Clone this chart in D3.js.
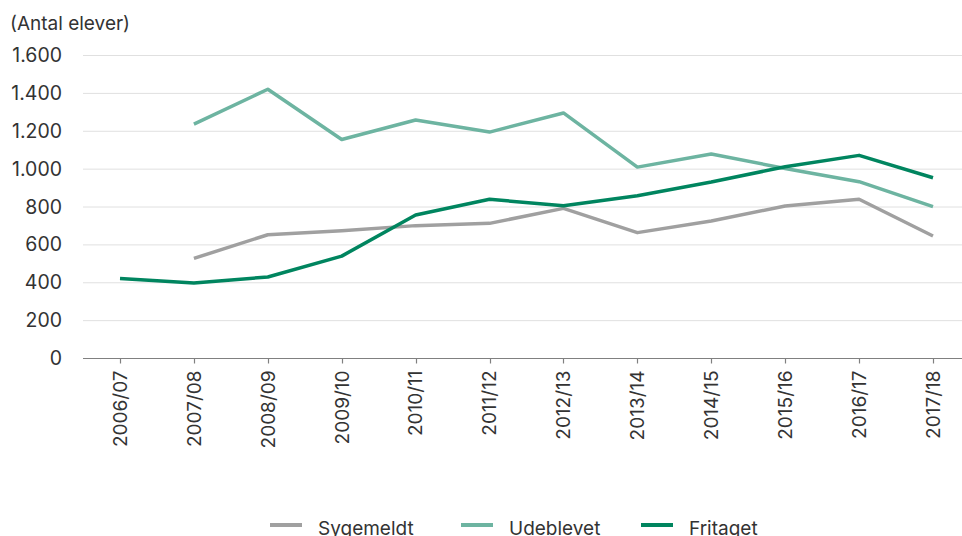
<!DOCTYPE html>
<html>
<head>
<meta charset="utf-8">
<script src="https://cdn.jsdelivr.net/npm/d3@7"></script>
<style>
  body { margin: 0; background: #fff; }
  svg text { font-family: "Inter", "Liberation Sans", sans-serif; fill: #333; }
</style>
</head>
<body>
<div class="chart"></div>
<script>
"use strict";
(function(){

var years = ['2006/07','2007/08','2008/09','2009/10','2010/11','2011/12',
             '2012/13','2013/14','2014/15','2015/16','2016/17','2017/18'];

var sygemeldt = [null, 526, 651, 672, 699, 711, 790, 662, 723, 803, 838, 644];
var udeblevet = [null, 1235, 1419, 1154, 1257, 1193, 1294, 1008, 1077, 1001, 931, 799];
var fritaget  = [420, 396, 428, 538, 755, 838, 804, 857, 929, 1010, 1070, 952];

var yTicks = [0, 200, 400, 600, 800, 1000, 1200, 1400, 1600];

var seriesNames  = ['Sygemeldt', 'Udeblevet', 'Fritaget'];
var seriesColors = ['#a0a0a0', '#6db4a1', '#00855f'];
var seriesValues = [sygemeldt, udeblevet, fritaget];

var width = 962;
var height = 536;
var margin = {top: 55, left: 83, bottom: 178};

var svg = d3.select('.chart')
            .append('svg')
            .attr('width', width)
            .attr('height', height);

var x = d3.scalePoint()
          .domain(years)
          .range([120, 933]);

var y = d3.scaleLinear()
          .domain([0, 1600])
          .range([height - margin.bottom, margin.top]);

// horizontal grid
svg.append('g')
   .selectAll('line')
   .data(yTicks.slice(1))
   .enter().append('line')
   .attr('x1', margin.left)
   .attr('x2', width)
   .attr('y1', function(d){ return y(d) + 0.5 })
   .attr('y2', function(d){ return y(d) + 0.5 })
   .attr('stroke', '#e0e0e0')
   .attr('stroke-width', 1);

// y labels
svg.append('g')
   .selectAll('text')
   .data(yTicks)
   .enter().append('text')
   .attr('x', 62)
   .attr('y', function(d){ return y(d) })
   .attr('dy', '0.36em')
   .attr('text-anchor', 'end')
   .style('font-size', '19.5px')
   .text(function(d){ return d3.format(',')(d).replace(/,/g, '.') });

svg.append('text')
   .attr('x', 10)
   .attr('y', 30)
   .style('font-size', '19px')
   .text('(Antal elever)');

// x axis
var xAxis = svg.append('g')
   .attr('transform', 'translate(0,' + (y(0) + 0.5) + ')');

xAxis.append('line')
     .attr('x1', margin.left)
     .attr('x2', width)
     .attr('stroke', '#808080')
     .attr('stroke-width', 1.2);

xAxis.selectAll('.tick')
     .data(years)
     .enter().append('line')
     .attr('class', 'tick')
     .attr('x1', function(d){ return Math.round(x(d)) + 0.5 })
     .attr('x2', function(d){ return Math.round(x(d)) + 0.5 })
     .attr('y1', 0)
     .attr('y2', 5)
     .attr('stroke', '#808080')
     .attr('stroke-width', 1.2);

xAxis.selectAll('.label')
     .data(years)
     .enter().append('text')
     .attr('class', 'label')
     .attr('transform', function(d){
       return 'translate(' + x(d) + ',12) rotate(-90)';
     })
     .attr('text-anchor', 'end')
     .attr('dy', '0.36em')
     .style('font-size', '19px')
     .text(function(d){ return d });

// lines
var line = d3.line()
             .defined(function(d){ return d != null })
             .x(function(d, i){ return x(years[i]) })
             .y(function(d){ return y(d) });

seriesValues.forEach(function(vals, i){
  svg.append('path')
     .datum(vals)
     .attr('fill', 'none')
     .attr('stroke', seriesColors[i])
     .attr('stroke-width', 3.5)
     .attr('stroke-linejoin', 'round')
     .attr('d', line);
});

// legend
var legendX = [270, 461, 641];
var legend = svg.append('g')
   .selectAll('g')
   .data(seriesNames)
   .enter().append('g')
   .attr('transform', function(d, i){ return 'translate(' + legendX[i] + ',525)' });

legend.append('line')
      .attr('x1', 0)
      .attr('x2', 32)
      .attr('stroke', function(d, i){ return seriesColors[i] })
      .attr('stroke-width', 4);

legend.append('text')
      .attr('x', 48)
      .attr('y', 10)
      .style('font-size', '19px')
      .text(function(d){ return d });

})();
</script>
</body>
</html>
